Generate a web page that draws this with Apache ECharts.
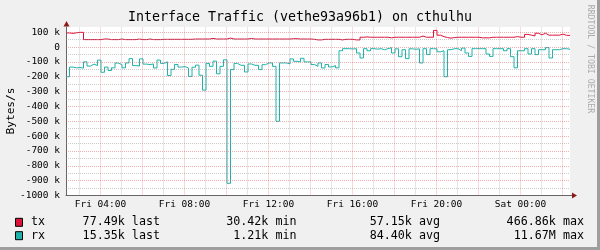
<!DOCTYPE html>
<html><head><meta charset="utf-8">
<script src="https://cdn.jsdelivr.net/npm/echarts@6/dist/echarts.min.js"></script>
<style>html,body{margin:0;padding:0;background:#F0F0F0}#c{width:600px;height:250px}</style>
</head><body><div id="c"></div>
<script>
// ---- data (values in k bytes/s, 10-minute steps starting Fri 02:22) ----
const startHour = 2.36;
const stepHours = 1 / 6;
const txK = [
  95,92,96,99,99,50,50,50,50,50,
  54,54,50,50,50,54,50,50,50,50,
  54,50,50,54,50,50,50,52,52,52,
  52,52,52,52,52,52,54,54,54,54,
  54,58,54,54,54,54,60,54,54,54,
  54,54,58,54,54,54,54,54,54,54,
  54,54,54,54,56,56,54,54,54,54,
  52,48,48,52,52,52,52,52,48,52,
  52,52,48,48,66,68,66,66,66,66,
  66,66,62,66,66,66,66,66,66,66,
  66,74,66,66,66,112,80,70,64,60,
  64,66,66,66,66,66,66,66,62,62,
  62,66,66,66,66,66,66,66,70,66,
  66,85,80,75,93,82,93,80,80,80,
  80,87,79,78
];
const rxK = [
  200,135,140,138,142,100,128,115,125,88,
  170,135,158,140,108,119,140,107,78,125,
  128,80,115,118,114,141,88,110,100,192,
  150,118,135,132,141,198,136,122,190,290,
  110,130,95,180,130,86,918,152,110,123,
  123,168,114,123,123,152,119,107,107,130,
  500,107,107,114,80,96,100,76,100,100,
  118,130,107,141,118,134,125,140,25,11,
  11,13,11,40,74,11,25,11,14,11,
  18,11,4,40,12,65,18,78,12,15,
  12,107,11,51,11,12,32,25,200,18,
  11,11,24,7,40,63,11,11,11,11,
  47,63,11,11,11,25,11,65,140,25,
  25,11,47,11,51,18,18,4,74,18,
  18,11,11,15
];
const xLabelHours = [4, 8, 12, 16, 20, 24];
const xLabelTexts = ['Fri 04:00','Fri 08:00','Fri 12:00','Fri 16:00','Fri 20:00','Sat 00:00'];
const yLabelValues = [100000,0,-100000,-200000,-300000,-400000,-500000,-600000,-700000,-800000,-900000,-1000000];
const yLabelTexts = ['100 k','0','-100 k','-200 k','-300 k','-400 k','-500 k','-600 k','-700 k','-800 k','-900 k','-1000 k'];
const legendNames = ['tx', 'rx'];
const statLast = ['77.49k last', '15.35k last'];
const statMin = ['30.42k min', '1.21k min'];
const statAvg = ['57.15k avg', '84.40k avg'];
const statMax = ['466.86k max', '11.67M max'];

// ---- styling ----
const FONT = "'DejaVu Sans Mono', monospace";
const TX_COLOR = '#DC143C';
const RX_COLOR = '#20B2AA';
const colors = [TX_COLOR, RX_COLOR];
const endHour = startHour + 24;

function toSeries(arr, sign) {
  const pts = arr.map((v, i) => [startHour + i * stepHours, sign * v * 1000]);
  pts.push([startHour + arr.length * stepHours, sign * arr[arr.length - 1] * 1000]);
  return pts;
}

// grid lines (axis values)
const minorLines = [], majorLines = [];
for (let h = 3; h <= 26; h++) {
  (h % 2 === 0 ? majorLines : minorLines).push({ xAxis: h });
}
for (let v = -950000; v <= 100000; v += 50000) {
  ((v % 100000 === 0) ? majorLines : minorLines).push({ yAxis: v });
}

const chart = echarts.init(document.getElementById('c'), null, { renderer: 'canvas' });

const graphics = [
  { type: 'rect', shape: { x: 0, y: 247, width: 600, height: 3 }, style: { fill: '#9E9E9E' }, silent: true },
  { type: 'rect', shape: { x: 597, y: 0, width: 3, height: 250 }, style: { fill: '#9E9E9E' }, silent: true },
  { type: 'text', x: 300, y: 18, style: { text: 'Interface Traffic (vethe93a96b1) on cthulhu', font: '13.3px ' + FONT, fill: '#000', align: 'center', verticalAlign: 'middle' } },
  { type: 'text', x: 11, y: 111, rotation: Math.PI / 2, style: { text: 'Bytes/s', font: '11.2px ' + FONT, fill: '#000', align: 'center', verticalAlign: 'middle' } },
  { type: 'text', x: 590, y: 59, rotation: -Math.PI / 2, style: { text: 'RRDTOOL / TOBI OETIKER', font: '8.2px ' + FONT, fill: '#ABABAB', align: 'center', verticalAlign: 'middle' } },
  // axis arrows
  { type: 'polygon', shape: { points: [[66.5, 21], [63.5, 26.5], [69.5, 26.5]] }, style: { fill: '#8B1A1A' }, silent: true },
  { type: 'line', shape: { x1: 570, y1: 195.5, x2: 573, y2: 195.5 }, style: { stroke: '#666', lineWidth: 1 }, silent: true },
  { type: 'polygon', shape: { points: [[577, 195.5], [572, 192.5], [572, 198.5]] }, style: { fill: '#8B1A1A' }, silent: true }
];
const rowY = [222.3, 235.7];
legendNames.forEach((n, i) => {
  graphics.push({ type: 'rect', shape: { x: 15.5, y: rowY[i] - 4, width: 7, height: 8 }, style: { fill: colors[i], stroke: '#000', lineWidth: 1 } });
  graphics.push({ type: 'text', x: 31, y: rowY[i], style: { text: n, font: '11.7px ' + FONT, fill: '#000', align: 'left', verticalAlign: 'middle' } });
  [[statLast, 160], [statMin, 296.5], [statAvg, 440], [statMax, 584]].forEach(([arr, x]) => {
    graphics.push({ type: 'text', x: x, y: rowY[i], style: { text: arr[i], font: '11.7px ' + FONT, fill: '#000', align: 'right', verticalAlign: 'middle' } });
  });
});

const markCommon = { silent: true, symbol: ['none', 'none'], label: { show: false }, emphasis: { disabled: true }, animation: false };

chart.setOption({
  backgroundColor: '#F0F0F0',
  animation: false,
  grid: { left: 66, top: 27, width: 504, height: 168.5, show: true, backgroundColor: '#FFFFFF', borderWidth: 0, containLabel: false },
  xAxis: {
    type: 'value', min: startHour, max: endHour,
    axisLine: { show: true, onZero: false, lineStyle: { color: '#666', width: 1 } },
    axisTick: { show: false },
    splitLine: { show: false },
    axisLabel: {
      customValues: xLabelHours, margin: 4, color: '#000', fontSize: 9.5, fontFamily: FONT,
      formatter: v => { const k = xLabelHours.indexOf(Math.round(v * 1000) / 1000); return k >= 0 ? xLabelTexts[k] : ''; }
    }
  },
  yAxis: {
    type: 'value', min: -1000000, max: 135000,
    axisLine: { show: true, onZero: false, lineStyle: { color: '#666', width: 1 } },
    axisTick: { show: false },
    splitLine: { show: false },
    axisLabel: {
      customValues: yLabelValues, margin: 6, color: '#000', fontSize: 9.5, fontFamily: FONT,
      formatter: v => { const k = yLabelValues.indexOf(v); return k >= 0 ? yLabelTexts[k] : ''; }
    }
  },
  series: [
    { type: 'line', name: 'minorGrid', data: [], z: 1, silent: true,
      markLine: Object.assign({ data: minorLines, lineStyle: { color: 'rgba(143,143,143,0.45)', width: 1, type: [1, 1] } }, markCommon) },
    { type: 'line', name: 'majorGrid', data: [], z: 1, silent: true,
      markLine: Object.assign({ data: majorLines, lineStyle: { color: 'rgba(222,80,80,0.45)', width: 1, type: [1, 1] } }, markCommon) },
    { type: 'line', name: 'tx', data: toSeries(txK, 1), step: 'end', showSymbol: false, z: 3,
      lineStyle: { color: TX_COLOR, width: 1 }, itemStyle: { color: TX_COLOR }, silent: true },
    { type: 'line', name: 'rx', data: toSeries(rxK, -1), step: 'end', showSymbol: false, z: 3,
      lineStyle: { color: RX_COLOR, width: 1 }, itemStyle: { color: RX_COLOR }, silent: true }
  ],
  graphic: graphics
});
</script></body></html>
